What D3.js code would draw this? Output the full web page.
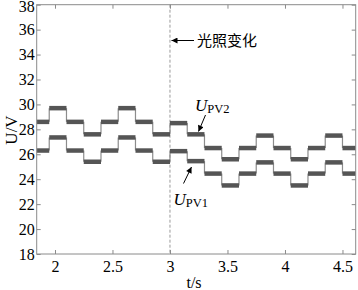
<!DOCTYPE html>
<html>
<head>
<meta charset="utf-8">
<script src="https://cdn.jsdelivr.net/npm/d3@7"></script>
<style>
  body { margin: 0; background: #fff; }
  svg { display: block; }
  text { font-family: "Liberation Serif", "DejaVu Serif", serif; }
</style>
</head>
<body>
<div class="graph-center"></div>
<script>
// data
// step times (s) where each level starts; last entry is the end of the plot
let stepTimes = [1.841, 1.95, 2.10, 2.25, 2.40, 2.55, 2.70, 2.85, 3.00, 3.15, 3.30, 3.45, 3.60, 3.75, 3.90, 4.05, 4.20, 4.35, 4.50, 4.615]
let upv2 = [28.6, 29.7, 28.6, 27.6, 28.6, 29.7, 28.6, 27.6, 28.5, 27.6, 26.5, 25.6, 26.5, 27.5, 26.5, 25.6, 26.5, 27.5, 26.5]
let upv1 = [26.3, 27.35, 26.3, 25.4, 26.3, 27.35, 26.3, 25.4, 26.25, 25.45, 24.45, 23.5, 24.45, 25.35, 24.45, 23.5, 24.45, 25.35, 24.45]
let xTicks = [2, 2.5, 3, 3.5, 4, 4.5]
let yTicks = [18, 20, 22, 24, 26, 28, 30, 32, 34, 36, 38]
let changeTime = 3

let svgWidth = 358
let svgHeight = 290
let margin = { left: 36.7, right: 2.3, top: 4.7, bottom: 36 }
let width = svgWidth - margin.left - margin.right
let height = svgHeight - margin.top - margin.bottom

let root = d3.select('.graph-center')
    .append('svg')
    .attr('width', svgWidth)
    .attr('height', svgHeight)

let svg = root.append('g')
    .attr('transform', `translate(${margin.left},${margin.top})`)

// scales
let xScale = d3.scaleLinear().domain([stepTimes[0], stepTimes[stepTimes.length - 1]]).range([0, width])
let yScale = d3.scaleLinear().domain([18, 38]).range([height, 0])

// dashed marker line
svg.append('line')
    .attr('x1', xScale(changeTime)).attr('x2', xScale(changeTime))
    .attr('y1', 0).attr('y2', height)
    .attr('stroke', '#9a9a9a')
    .attr('stroke-width', 1)
    .attr('stroke-dasharray', '3,2')

// series: thick levels, thin jumps between them
;[upv2, upv1].forEach(s => {
    let g = svg.append('g')
    let levels = s.map((v, i) => ({ t0: stepTimes[i], t1: stepTimes[i + 1], v: v }))
    let jumps = s.slice(1).map((v, i) => ({ t: stepTimes[i + 1], from: s[i], to: v }))

    g.selectAll('.jump')
        .data(jumps)
        .join('line')
        .attr('class', 'jump')
        .attr('x1', d => xScale(d.t)).attr('x2', d => xScale(d.t))
        .attr('y1', d => yScale(d.from)).attr('y2', d => yScale(d.to))
        .attr('stroke', '#8c8c8c')
        .attr('stroke-width', 1.2)

    g.selectAll('.level')
        .data(levels)
        .join('line')
        .attr('class', 'level')
        .attr('x1', d => xScale(d.t0)).attr('x2', d => xScale(d.t1))
        .attr('y1', d => yScale(d.v)).attr('y2', d => yScale(d.v))
        .attr('stroke', '#555')
        .attr('stroke-width', 4.5)
})

// axes, ticks inward
let axisColor = '#8a8a8a'
let xAxis = d3.axisBottom(xScale).tickValues(xTicks).tickSize(-4).tickPadding(7).tickFormat(d3.format('~g'))
let xAxisTop = d3.axisTop(xScale).tickValues(xTicks).tickSize(-4).tickFormat('')
let yAxis = d3.axisLeft(yScale).tickValues(yTicks).tickSize(-4).tickPadding(2).tickFormat(d3.format('d'))
let yAxisRight = d3.axisRight(yScale).tickValues(yTicks).tickSize(-4).tickFormat('')

svg.append('g').attr('id', 'x-axis').attr('transform', `translate(0,${height})`).call(xAxis)
svg.append('g').attr('id', 'x-axis-top').call(xAxisTop)
svg.append('g').attr('id', 'y-axis').call(yAxis)
svg.append('g').attr('id', 'y-axis-right').attr('transform', `translate(${width},0)`).call(yAxisRight)

svg.selectAll('.domain').remove()
svg.selectAll('.tick line').attr('stroke', axisColor)
svg.selectAll('.tick text')
    .attr('fill', '#000')
    .style('font-family', '"Liberation Serif", serif')
    .style('font-size', '16px')
d3.selectAll('#x-axis, #y-axis, #x-axis-top, #y-axis-right').attr('font-family', null)
// keep the top label inside the page
d3.select('#y-axis').selectAll('.tick text').filter(d => d === 38).attr('dy', '0.45em')

svg.append('rect')
    .attr('width', width).attr('height', height)
    .attr('fill', 'none')
    .attr('stroke', axisColor)
    .attr('stroke-width', 1)

// axis titles
root.append('text')
    .attr('x', 194).attr('y', 288)
    .attr('text-anchor', 'middle')
    .style('font-size', '16px')
    .text('t/s')

root.append('text')
    .attr('transform', 'translate(17,130) rotate(-90)')
    .attr('text-anchor', 'middle')
    .style('font-size', '17px')
    .text('U/V')

// annotations
let defs = root.append('defs')
defs.append('marker')
    .attr('id', 'arrow')
    .attr('viewBox', '0 0 10 10')
    .attr('refX', 10).attr('refY', 5)
    .attr('markerWidth', 7).attr('markerHeight', 6)
    .attr('markerUnits', 'userSpaceOnUse')
    .attr('orient', 'auto')
    .append('path')
    .attr('d', 'M0,0 L10,5 L0,10 Z')
    .attr('fill', '#000')

function arrow(x1, y1, x2, y2) {
    root.append('line')
        .attr('x1', x1).attr('y1', y1).attr('x2', x2).attr('y2', y2)
        .attr('stroke', '#000').attr('stroke-width', 1)
        .attr('marker-end', 'url(#arrow)')
}

arrow(194, 40.5, 171.5, 40.5)
root.append('text')
    .attr('x', 197).attr('y', 46)
    .style('font-family', '"Noto Sans CJK SC", sans-serif')
    .style('font-size', '15px')
    .text('光照变化')

arrow(205.5, 115, 198.5, 131.5)
arrow(183.5, 183.5, 191.5, 167)

function uLabel(x, y, sub) {
    let t = root.append('text').attr('x', x).attr('y', y)
    t.append('tspan').style('font-style', 'italic').style('font-size', '17px').text('U')
    t.append('tspan').attr('dy', 2).style('font-size', '12.5px').text(sub)
}
uLabel(195, 110.5, 'PV2')
uLabel(173.5, 205, 'PV1')
</script>
</body>
</html>
